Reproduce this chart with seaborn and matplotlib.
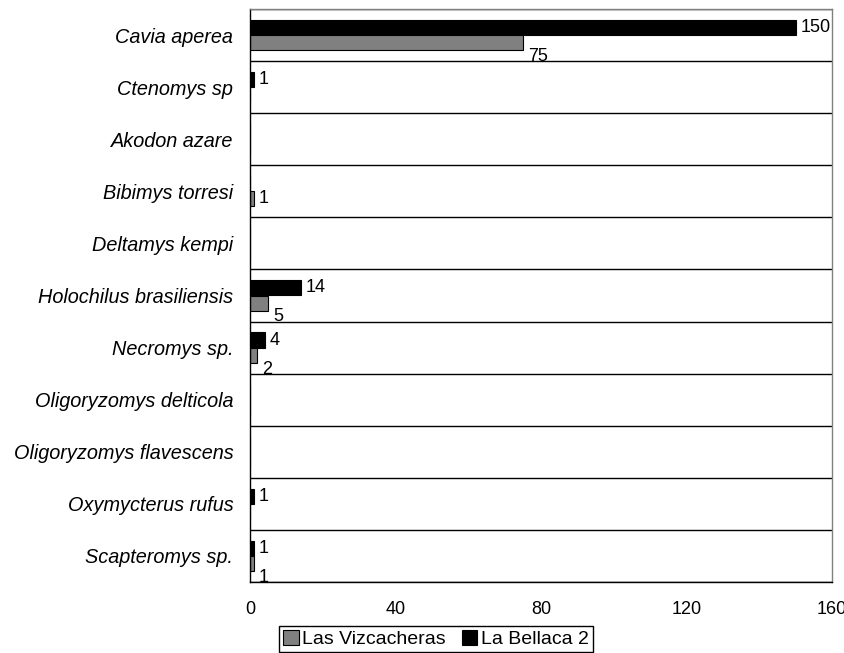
import numpy as np
import pandas as pd
import seaborn as sns
import matplotlib.pyplot as plt
from matplotlib.patches import Patch

species = ['Cavia aperea', 'Ctenomys sp', 'Akodon azare', 'Bibimys torresi',
           'Deltamys kempi', 'Holochilus brasiliensis', 'Necromys sp.',
           'Oligoryzomys delticola', 'Oligoryzomys flavescens',
           'Oxymycterus rufus', 'Scapteromys sp.']
vizcacheras = [75, 0, 0, 1, 0, 5, 2, 0, 0, 0, 1]
bellaca = [150, 1, 0, 0, 0, 14, 4, 0, 0, 1, 1]
sites = ['Las Vizcacheras', 'La Bellaca 2']
colors = {'Las Vizcacheras': '#808080', 'La Bellaca 2': 'black'}
xticks = [0, 40, 80, 120, 160]

df = pd.DataFrame({
    'species': species * 2,
    'count': vizcacheras + bellaca,
    'site': [sites[0]] * len(species) + [sites[1]] * len(species),
})

sns.set_style('white')
plt.rcParams['font.family'] = ['Liberation Sans', 'DejaVu Sans']
plt.rcParams['text.color'] = 'black'
plt.rcParams['xtick.color'] = 'black'
plt.rcParams['ytick.color'] = 'black'

fig = plt.figure(figsize=(8.45, 6.53), dpi=100)
ax = fig.add_axes([250 / 845, 1 - 582 / 653, (832 - 250) / 845, (582 - 9) / 653])

# black bar on top, gray below
sns.barplot(data=df, y='species', x='count', hue='site',
            hue_order=['La Bellaca 2', 'Las Vizcacheras'], palette=colors,
            orient='h', width=0.58, edgecolor='black', linewidth=0.8,
            legend=False, ax=ax)

ax.set_xlim(0, 160)
ax.set_ylim(len(species) - 0.5, -0.5)
ax.set_xticks(xticks)
ax.set_xlabel('')
ax.set_ylabel('')

# value labels (zeros skipped); gray label drops below when a black label sits above it
for i, (cont, other) in enumerate(zip(ax.containers, [None, bellaca])):
    for j, bar in enumerate(cont):
        w = bar.get_width()
        if w <= 0:
            continue
        dy = -10 if (other is not None and other[j] > 0) else 0
        ax.annotate(f'{w:.0f}', (w, bar.get_y() + bar.get_height() / 2),
                    xytext=(3.5, dy), textcoords='offset points',
                    ha='left', va='center', fontsize=13, color='black')

# category separators
ax.set_yticks(np.arange(-0.5, len(species), 1), minor=True)
ax.grid(True, which='minor', axis='y', color='black', lw=1)
ax.grid(False, which='major')
ax.set_axisbelow(True)
ax.tick_params(axis='y', which='minor', length=7, color='black', direction='out')
ax.tick_params(axis='y', which='major', length=0, pad=12, labelsize=14.3)
ax.tick_params(axis='x', which='major', length=6, color='black', direction='out',
               pad=8, labelsize=13)
for lab in ax.get_yticklabels():
    lab.set_fontstyle('italic')

for s in ['left', 'bottom']:
    ax.spines[s].set_color('black')
    ax.spines[s].set_linewidth(1)
for s in ['top', 'right']:
    ax.spines[s].set_color('#808080')
    ax.spines[s].set_linewidth(1)

handles = [Patch(facecolor=colors[s], edgecolor='black', lw=0.8) for s in sites]
leg = fig.legend(handles, sites, loc='lower center', bbox_to_anchor=(436 / 845, 1 / 653),
                 ncol=2, frameon=True, fancybox=False, edgecolor='black', framealpha=1,
                 handlelength=0.8, handleheight=0.8, handletextpad=0.2,
                 columnspacing=0.8, borderpad=0.2, borderaxespad=0, fontsize=14)
leg.get_frame().set_linewidth(1)

fig.savefig('out.png', dpi=100)
